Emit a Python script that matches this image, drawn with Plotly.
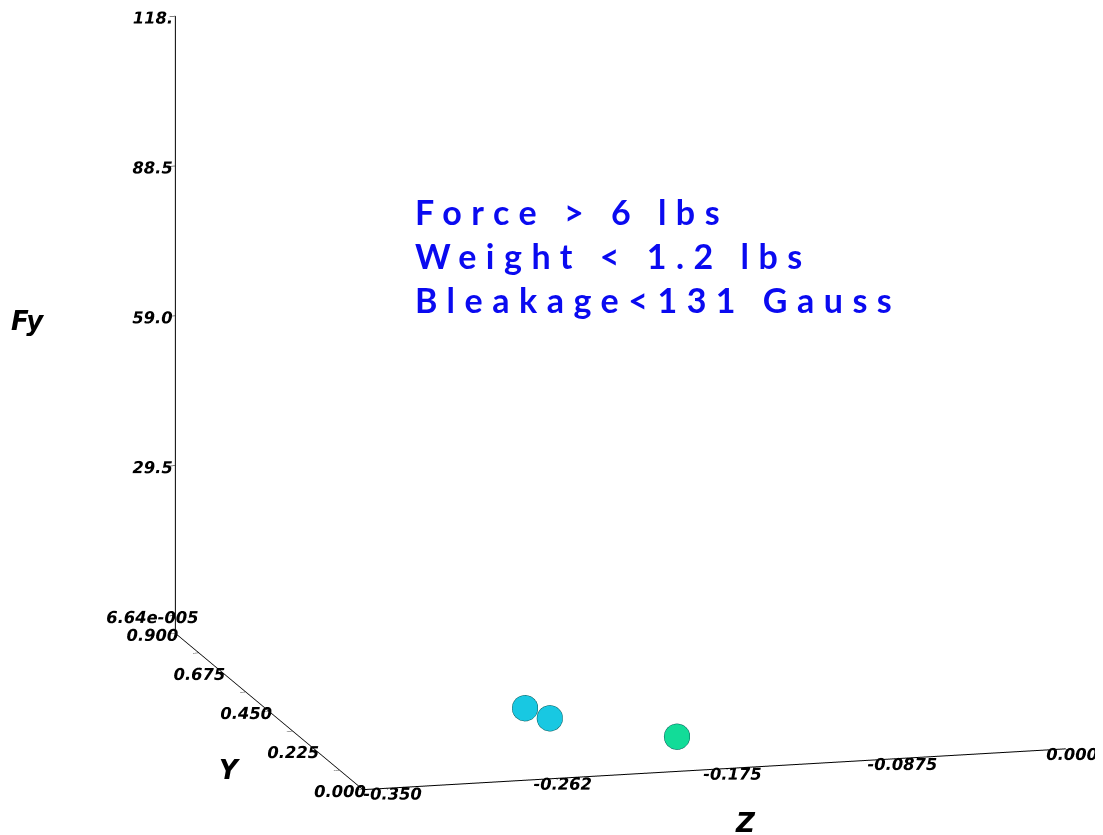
import plotly.graph_objects as go

# data
z_vals = [-0.2485, -0.2424, -0.1918]
y_vals = [0.281, 0.219, 0.080]
fy_vals = [0.5, 0.5, 0.5]
point_colors = ["#18c8e2", "#18c8e2", "#12dc98"]

z_ticks = [-0.35, -0.2625, -0.175, -0.0875, 0.0]
z_ticktext = ["-0.350", "-0.262", "-0.175", "-0.0875", "0.000"]
y_ticks = [0.0, 0.1125, 0.225, 0.3375, 0.45, 0.5625, 0.675, 0.7875, 0.9]
y_ticktext = ["0.000", "", "0.225", "", "0.450", "", "0.675", "", "0.900"]
fy_ticks = [6.64e-5, 29.5, 59.0, 88.5, 118.0]
fy_ticktext = ["6.64e-005", "29.5", "59.0", "88.5", "118."]
axis_titles = ["Fy", "Y", "Z"]

note_lines = ["Force &gt; 6 lbs", "Weight &lt; 1.2 lbs", "Bleakage&lt;131 Gauss"]

tickfont = dict(family="DejaVu Sans", size=14, color="black", style="italic", weight="bold")
titlefont = dict(family="DejaVu Sans", size=26, color="black", style="italic", weight="bold")

fig = go.Figure()
fig.add_trace(go.Scatter3d(
    x=z_vals, y=y_vals, z=fy_vals, mode="markers",
    marker=dict(size=15, color=point_colors, opacity=1,
                line=dict(color="#0a5a5a", width=2)),
    showlegend=False, hoverinfo="skip"))

axis_common = dict(showgrid=False, showbackground=False, showline=True,
                   linecolor="black", linewidth=2, zeroline=False,
                   ticks="outside", ticklen=6, tickcolor="black",
                   showspikes=False, tickfont=tickfont, tickangle=0)

cx, cy, cz = -0.1444, 0.0263, -0.1031
dx, dy, dz = -0.249, -0.943, 0.22

fig.update_layout(
    width=1103, height=835,
    margin=dict(l=0, r=0, t=0, b=0),
    paper_bgcolor="white",
    scene=dict(
        domain=dict(x=[0.0, 1.0], y=[0.0, 1.0]),
        xaxis=dict(title=dict(text=""), range=[-0.362, 0.0],
                   tickvals=z_ticks, ticktext=z_ticktext, **axis_common),
        yaxis=dict(title=dict(text=""), range=[0.0, 0.9],
                   tickvals=y_ticks, ticktext=y_ticktext, **axis_common),
        zaxis=dict(title=dict(text=""), range=[-3.5, 118.0],
                   tickvals=fy_ticks, ticktext=fy_ticktext, **axis_common),
        aspectmode="manual",
        aspectratio=dict(x=1.741, y=1.76, z=1.5156),
        camera=dict(projection=dict(type="orthographic"),
                    up=dict(x=0, y=0, z=1),
                    center=dict(x=cx, y=cy, z=cz),
                    eye=dict(x=cx + 1.5 * dx, y=cy + 1.5 * dy, z=cz + 1.5 * dz)),
    ),
    annotations=[
        dict(text="<br>".join('<span style="letter-spacing:9.5px">' + s + "</span>" for s in note_lines),
             xref="paper", yref="paper", x=0.367, y=0.783,
             xanchor="left", yanchor="top", align="left", showarrow=False,
             font=dict(family="Lato", size=34, color="#0a0af0", weight="bold")),
        dict(text=axis_titles[0], xref="paper", yref="paper", x=0.0175, y=0.625,
             xanchor="center", yanchor="middle", showarrow=False, font=titlefont),
        dict(text=axis_titles[1], xref="paper", yref="paper", x=0.2015, y=0.088,
             xanchor="center", yanchor="middle", showarrow=False, font=titlefont),
        dict(text=axis_titles[2], xref="paper", yref="paper", x=0.669, y=0.024,
             xanchor="center", yanchor="middle", showarrow=False, font=titlefont),
    ],
)

fig.write_html("out.html")
